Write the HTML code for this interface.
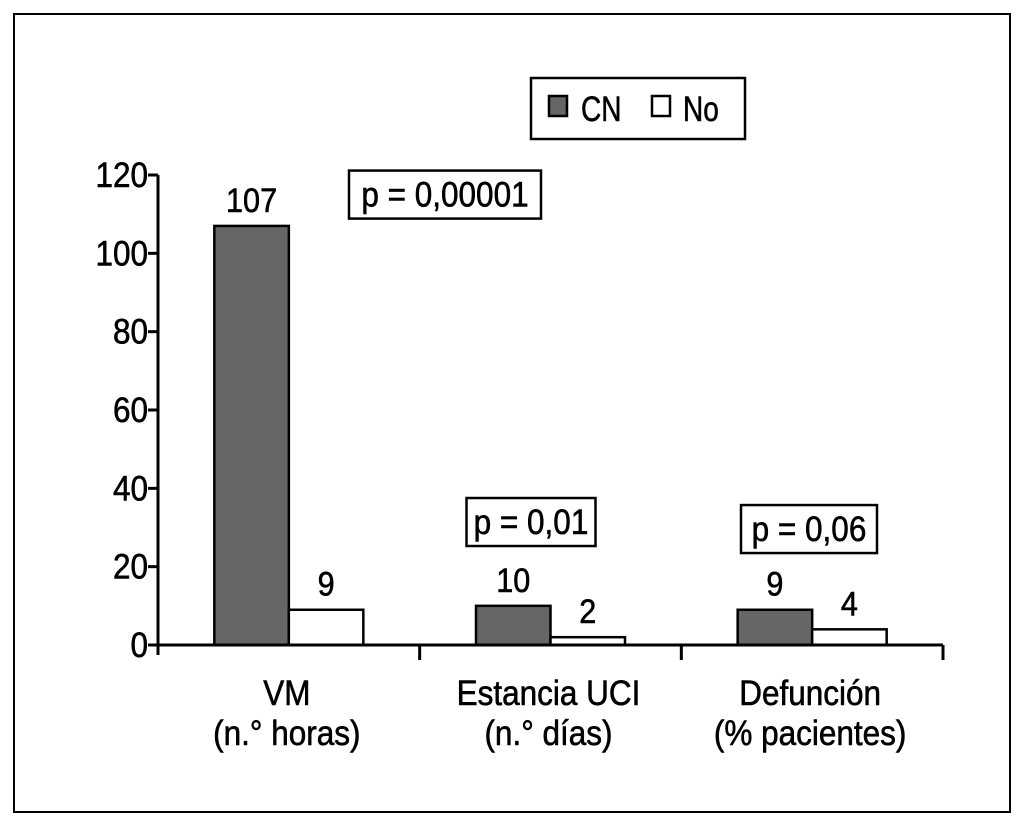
<!DOCTYPE html>
<html><head><meta charset="utf-8"><style>
body{margin:0;background:#fff}
svg text{font-family:"Liberation Sans",sans-serif;fill:#000;stroke:#000;stroke-width:0.6}
</style></head><body>
<svg id="c" width="1024" height="825" xmlns="http://www.w3.org/2000/svg">
<rect x="14" y="14" width="996" height="798" fill="#fff" stroke="#000" stroke-width="2"/>
<g id="legend">
<rect x="531" y="78" width="214" height="61" fill="#fff" stroke="#000" stroke-width="2.5"/>
<rect x="549" y="96" width="18" height="20" fill="#666" stroke="#000" stroke-width="2.5"/>
<text x="581" y="121" font-size="35" transform="translate(581 0) scale(0.8 1) translate(-581 0)">CN</text>
<rect x="652" y="96" width="18" height="20" fill="#fff" stroke="#000" stroke-width="2.5"/>
<text x="683" y="121" font-size="35" transform="translate(683 0) scale(0.8 1) translate(-683 0)">No</text>
</g>
</svg>
<script>
const categories=["VM|(n.° horas)","Estancia UCI|(n.° días)","Defunción|(% pacientes)"];
const cnValues=[107,10,9];
const noValues=[9,2,4];
const yTicks=[0,20,40,60,80,100,120];
const pLabels=["p = 0,00001","p = 0,01","p = 0,06"];
const pValuesY=[115,31.4,29.6];
const svg=document.getElementById('c');
const NS="http://www.w3.org/2000/svg";
const x0=158,x1=943,y0=645,yTop=175,yMax=120;
const y=v=>y0-(v/yMax)*(y0-yTop);
const gw=(x1-x0)/categories.length;
function el(t,a){const e=document.createElementNS(NS,t);for(const k in a)e.setAttribute(k,a[k]);svg.appendChild(e);return e;}
function txt(x,yy,s,size,anchor){const e=el('text',{x:x,y:yy,'font-size':size,'text-anchor':anchor||'middle',transform:`translate(${x} 0) scale(0.9 1) translate(${-x} 0)`});e.textContent=s;return e;}
let a=el('line',{x1:x0,y1:yTop,x2:x0,y2:y0+10,stroke:'#000','stroke-width':3});


yTicks.forEach(t=>{
 const l=el('line',{x1:x0-10,y1:y(t),x2:x0,y2:y(t),stroke:'#000','stroke-width':3});
 
 
 const tx=txt(x0-10,y(t)+12,String(t),35,'end');
 
 
});
const pw=[192,129,136];
const pcx=[445,531,809];
categories.forEach((c,i)=>{
 const gx=x0+gw*i, cx=gx+gw/2;
 const bw=74.5;
 const b1=el('rect',{x:cx-bw,y:y(cnValues[i]),width:bw,height:y0-y(cnValues[i]),fill:'#666',stroke:'#000','stroke-width':2.5});
 
 
 const b2=el('rect',{x:cx,y:y(noValues[i]),width:bw,height:y0-y(noValues[i]),fill:'#fff',stroke:'#000','stroke-width':2.5});
 
 
 const l1=txt(cx-bw/2,y(cnValues[i])-14,String(cnValues[i]),34);
 
 
 const l2=txt(cx+bw/2,y(noValues[i])-14,String(noValues[i]),34);
 
 
 const tk=el('line',{x1:gx+gw,y1:y0,x2:gx+gw,y2:y0+15,stroke:'#000','stroke-width':3});
 
 
 const parts=c.split('|');
 const c1=txt(cx-2,705,parts[0],35);
 
 
 const c2=txt(cx-2,745,parts[1],35);
 
 
 const py=y(pValuesY[i]);
 const pb=el('rect',{x:pcx[i]-pw[i]/2,y:py-24,width:pw[i],height:48,fill:'#fff',stroke:'#000','stroke-width':2.5});
 
 
 const pt=txt(pcx[i],py+12,pLabels[i],35);
 
 
});
const xa=el('line',{x1:x0,y1:y0,x2:x1,y2:y0,stroke:'#000','stroke-width':3});


</script>
</body></html>
